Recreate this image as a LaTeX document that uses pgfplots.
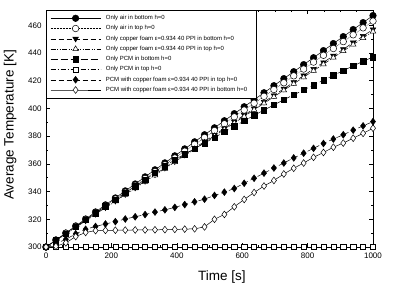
\documentclass[border=0pt]{standalone}
\usepackage{fontspec}
\setmainfont{Liberation Sans}
\usepackage{pgfplots}
\usepackage{pgfplotstable}
\pgfplotsset{compat=1.18}
% t, air bottom, air top, copper bottom, copper top, PCM bottom, PCM top, PCM+Cu top, PCM+Cu bottom
\pgfplotstableread{
t      a      b      c      d      e      f      g      h
0      300.0  300.0  300.0  300.0  300.0  300.0  300.0  300.0
30.3   305.1  304.9  304.8  304.7  304.8  300.0  302.5  300.5
60.6   310.1  309.9  309.5  309.4  309.7  300.0  305.5  303.0
90.9   315.2  314.8  314.3  314.1  314.6  300.0  309.5  307.5
121.2  320.2  319.8  319.0  318.8  319.5  300.0  312.8  310.5
151.5  325.3  324.7  323.8  323.6  324.4  300.0  314.8  311.8
181.8  330.4  329.6  328.5  328.3  329.3  300.0  316.6  312.0
212.1  335.4  334.6  333.3  333.0  334.2  300.0  318.3  312.1
242.4  340.5  339.5  338.1  337.7  339.0  300.0  320.2  312.2
272.7  345.5  344.5  342.8  342.4  343.8  300.0  321.8  312.3
303.0  350.6  349.4  347.6  347.1  348.6  300.0  323.4  312.3
333.3  355.7  354.3  352.3  351.8  353.4  300.0  325.2  312.4
363.6  360.7  359.3  357.1  356.5  358.2  300.0  326.8  312.5
393.9  365.8  364.2  361.8  361.3  363.0  300.0  328.6  312.7
424.2  370.8  369.1  366.6  366.0  367.0  300.0  330.6  312.9
454.5  375.9  374.1  371.4  370.7  371.0  300.0  332.6  313.1
484.8  381.0  379.0  376.1  375.4  375.0  300.0  334.5  314.5
515.2  386.0  384.0  380.9  380.1  379.0  300.0  337.2  320.0
545.5  391.1  388.9  385.6  384.8  383.0  300.0  339.6  323.5
575.8  396.2  393.9  390.4  389.5  387.0  300.0  342.2  329.0
606.1  401.2  398.8  395.2  394.2  391.0  300.0  346.0  334.3
636.4  406.3  403.7  399.9  399.0  395.0  300.0  349.6  339.3
666.7  411.3  408.7  404.7  403.7  398.8  300.0  353.3  344.0
697.0  416.4  413.6  409.4  408.4  402.5  300.0  357.0  348.0
727.3  421.5  418.5  414.2  413.1  406.3  300.0  360.6  352.7
757.6  426.5  423.5  418.9  417.8  409.8  300.0  364.3  356.8
787.9  431.6  428.4  423.7  422.5  413.3  300.0  367.7  360.6
818.2  436.6  433.4  428.5  427.2  416.8  300.0  371.2  364.7
848.5  441.7  438.3  433.2  431.9  420.3  300.0  374.7  368.2
878.8  446.8  443.2  438.0  436.7  423.8  300.0  377.9  372.0
909.1  451.8  448.2  442.7  441.4  427.3  300.0  381.0  375.0
939.4  456.9  453.1  447.5  446.1  430.6  300.0  384.3  378.5
969.7  461.9  458.1  452.2  450.8  434.0  300.0  387.4  382.0
1000   467.0  463.0  457.0  455.5  437.0  300.0  390.5  385.7
}\datatable
\begin{document}
\begin{tikzpicture}
\begin{axis}[
  scale only axis, width=327pt, height=237pt,
  xmin=0, xmax=1000, ymin=300, ymax=471,
  xtick={0,200,...,1000}, ytick={300,320,...,460},
  minor x tick num=3, minor y tick num=1,
  tick align=inside, major tick length=4pt, minor tick length=2pt,
  tick style={black, line width=0.5pt},
  axis line style={line width=0.8pt},
  /pgf/number format/assume math mode=true,
  /pgf/number format/1000 sep={},
  ticklabel style={font=\fontsize{8}{9}\selectfont},
  xticklabel style={yshift=-2pt},
  yticklabel style={xshift=-1pt},
  xlabel={Time [s]}, ylabel={Average Temperature [K]},
  label style={font=\fontsize{13.5}{15}\selectfont},
  xlabel style={at={(axis description cs:0.538,-0.127)}, anchor=center},
  ylabel style={at={(axis description cs:-0.110,0.515)}, anchor=center},
  legend cell align=left,
  legend style={at={(0,1)}, anchor=north west, draw=black, line width=0.7pt,
    font=\fontsize{6}{6.6}\selectfont, row sep=0.4pt, inner xsep=4pt, inner ysep=3pt,
    nodes={inner xsep=5pt}},
  legend image code/.code={\draw[mark repeat=2, mark phase=2, #1] plot coordinates {(0pt,0pt) (25pt,0pt) (50pt,0pt)};},
]
\addplot[black, line width=0.5pt, solid, mark=*, mark size=3.3pt, mark options={solid, fill=black}] table[x=t,y=a]{\datatable};
\addlegendentry{Only air in bottom h=0}
\addplot[black, line width=0.5pt, densely dotted, mark=*, mark size=3.3pt, mark options={solid, fill=white}] table[x=t,y=b]{\datatable};
\addlegendentry{Only air in top h=0}
\addplot[black, line width=0.5pt, dash pattern=on 5pt off 3pt, mark=triangle*, mark size=3.2pt, mark options={solid, fill=black, rotate=180}] table[x=t,y=c]{\datatable};
\addlegendentry{Only copper foam ε=0.934 40 PPI in bottom h=0}
\addplot[black, line width=0.5pt, dash pattern=on 5pt off 1.5pt on 1pt off 1.5pt on 1pt off 1.5pt, mark=triangle*, mark size=3.2pt, mark options={solid, fill=white}] table[x=t,y=d]{\datatable};
\addlegendentry{Only copper foam ε=0.934 40 PPI in top h=0}
\addplot[black, line width=0.5pt, dash pattern=on 7pt off 3pt, mark=square*, mark size=2.7pt, mark options={solid, fill=black}] table[x=t,y=e]{\datatable};
\addlegendentry{Only PCM in bottom h=0}
\addplot[black, line width=0.5pt, dash pattern=on 5pt off 2pt on 1pt off 2pt, mark=square*, mark size=2.6pt, mark options={solid, fill=white}] table[x=t,y=f]{\datatable};
\addlegendentry{Only PCM in top h=0}
\addplot[black, line width=0.5pt, dash pattern=on 5pt off 3pt, mark=diamond*, mark size=3.4pt, mark options={solid, fill=black}] table[x=t,y=g]{\datatable};
\addlegendentry{PCM with copper foam ε=0.934 40 PPI in top h=0}
\addplot[black, line width=0.5pt, solid, mark=diamond*, mark size=3.4pt, mark options={solid, fill=white}] table[x=t,y=h]{\datatable};
\addlegendentry{PCM with copper foam ε=0.934 40 PPI in bottom h=0}
\end{axis}
\path ([xshift=-46pt,yshift=-40pt]current axis.south west) rectangle ([xshift=21pt,yshift=10pt]current axis.north east);
\end{tikzpicture}
\end{document}
